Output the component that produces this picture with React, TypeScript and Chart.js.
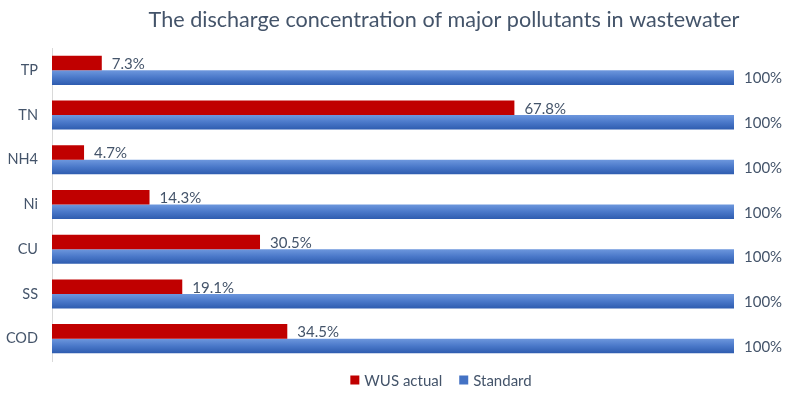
import React, { useEffect, useRef } from "react";
import { Chart, registerables } from "chart.js";

Chart.register(...registerables);

const categories = ["TP", "TN", "NH4", "Ni", "CU", "SS", "COD"];
const wusActual = [7.3, 67.8, 4.7, 14.3, 30.5, 19.1, 34.5];
const standard = [100, 100, 100, 100, 100, 100, 100];
const seriesNames = ["WUS actual", "Standard"];
const titleText = "The discharge concentration of major pollutants in wastewater";

const TEXT = "#44546A";
const FONT = "Lato, 'Liberation Sans', sans-serif";

const gradientPlugin = {
  id: "barGradient",
  beforeDatasetsDraw(chart: any) {
    const ctx = chart.ctx;
    const meta = chart.getDatasetMeta(1);
    meta.data.forEach((bar: any) => {
      const { y, height } = bar.getProps(["y", "height"], true);
      const g = ctx.createLinearGradient(0, y - height / 2, 0, y + height / 2);
      g.addColorStop(0, "#6D97DD");
      g.addColorStop(0.5, "#4A78C9");
      g.addColorStop(1, "#2E5CAF");
      bar.options = { ...bar.options, backgroundColor: g };
    });
  },
};

const labelsPlugin = {
  id: "valueLabels",
  afterDatasetsDraw(chart: any) {
    const ctx = chart.ctx;
    ctx.save();
    ctx.font = `15px ${FONT}`;
    ctx.fillStyle = TEXT;
    ctx.textAlign = "left";
    ctx.textBaseline = "middle";
    chart.data.datasets.forEach((ds: any, di: number) => {
      const meta = chart.getDatasetMeta(di);
      meta.data.forEach((bar: any, i: number) => {
        const { x, y } = bar.getProps(["x", "y"], true);
        const v = ds.data[i];
        const txt = v === 100 ? "100%" : v.toFixed(1) + "%";
        ctx.fillText(txt, x + 10, y + 1);
      });
    });
    ctx.restore();
  },
};

const titleLegendPlugin = {
  id: "titleLegend",
  afterDraw(chart: any) {
    const ctx = chart.ctx;
    const area = chart.chartArea;
    ctx.save();
    ctx.fillStyle = TEXT;
    ctx.font = `21.6px ${FONT}`;
    ctx.textAlign = "center";
    ctx.textBaseline = "alphabetic";
    ctx.fillText(titleText, 444, 27);

    // legend
    ctx.font = `15px ${FONT}`;
    ctx.textBaseline = "middle";
    ctx.textAlign = "left";
    const box = 9;
    const gapBoxText = 5;
    const gapItems = 17;
    const items = chart.data.datasets.map((ds: any) => ({
      label: ds.label,
      color: ds.legendColor,
      w: box + gapBoxText + ctx.measureText(ds.label).width,
    }));
    const total = items.reduce((s: number, it: any) => s + it.w, 0) + gapItems * (items.length - 1);
    let x = 441 - total / 2;
    const y = area.bottom + 19;
    items.forEach((it: any) => {
      ctx.fillStyle = it.color;
      ctx.fillRect(x, y - box / 2, box, box);
      ctx.fillStyle = TEXT;
      ctx.fillText(it.label, x + box + gapBoxText, y + 1);
      x += it.w + gapItems;
    });
    ctx.restore();
  },
};

export default function App() {
  const canvasRef = useRef<HTMLCanvasElement | null>(null);

  useEffect(() => {
    if (!canvasRef.current) return;
    const chart = new Chart(canvasRef.current, {
      type: "bar",
      data: {
        labels: categories,
        datasets: [
          {
            label: seriesNames[0],
            data: wusActual,
            backgroundColor: "#C00000",
            borderWidth: 0,
            legendColor: "#C00000",
          } as any,
          {
            label: seriesNames[1],
            data: standard,
            backgroundColor: "#4472C4",
            borderWidth: 0,
            legendColor: "#4472C4",
          } as any,
        ],
      },
      options: {
        indexAxis: "y",
        animation: false,
        responsive: false,
        maintainAspectRatio: false,
        categoryPercentage: 0.65,
        barPercentage: 1,
        layout: { padding: { top: 48, bottom: 38, left: 0, right: 66 } },
        plugins: {
          legend: { display: false },
          title: { display: false },
          tooltip: { enabled: false },
        },
        scales: {
          x: {
            display: false,
            min: 0,
            max: 100,
          },
          y: {
            grid: { display: false, drawTicks: false },
            border: { display: true, color: "#D9D9D9", width: 1 },
            ticks: {
              color: TEXT,
              font: { family: FONT, size: 14.5 },
              padding: 14,
            },
            afterFit(scale: any) {
              scale.width = 52;
            },
          },
        },
      },
      plugins: [gradientPlugin, labelsPlugin, titleLegendPlugin],
    } as any);
    return () => chart.destroy();
  }, []);

  return (
    <div style={{ position: "absolute", left: 0, top: 0, width: 800, height: 399, background: "#fff" }}>
      <canvas ref={canvasRef} width={800} height={399} style={{ width: 800, height: 399, display: "block" }} />
    </div>
  );
}
